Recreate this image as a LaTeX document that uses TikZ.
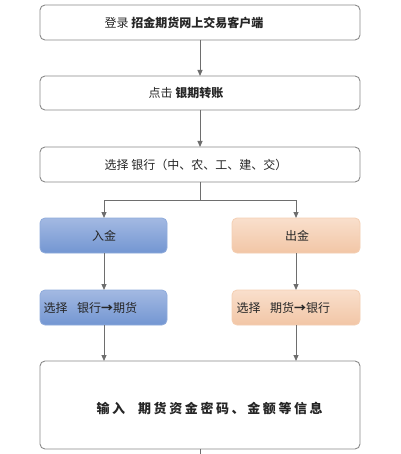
\documentclass[tikz,border=0pt]{standalone}
\usepackage{fontspec}
\setmainfont{Noto Sans CJK SC}
\newfontfamily\cjk{Noto Sans CJK SC}
\usetikzlibrary{arrows.meta}
\definecolor{edge}{HTML}{8A8A8A}
\definecolor{arr}{HTML}{6E6E6E}
\definecolor{bluetop}{HTML}{A3B9E2}
\definecolor{bluebot}{HTML}{7396D2}
\definecolor{orgtop}{HTML}{F9DFCC}
\definecolor{orgbot}{HTML}{F2C6A6}
\tikzset{
  x=1pt,y=-1pt,
  wbox/.style={draw=edge,line width=0.9pt,rounded corners=5pt,fill=white},
  bluebox/.style={draw=bluebot!80!white,line width=0.8pt,rounded corners=5pt,top color=bluetop,bottom color=bluebot},
  orgbox/.style={draw=orgbot!85!white,line width=0.8pt,rounded corners=5pt,top color=orgtop,bottom color=orgbot},
  conn/.style={draw=arr,line width=1pt,-{Triangle[length=6pt,width=5pt]}},
  plain/.style={draw=arr,line width=1pt},
  txt/.style={font=\cjk\fontsize{12}{14}\selectfont,text=black!85},
}
\begin{document}
\begin{tikzpicture}
\useasboundingbox[fill=white] (0,0) rectangle (400,454);
% boxes
\draw[wbox] (40,5) rectangle (360,40);
\draw[wbox] (40,76) rectangle (360,110);
\draw[wbox] (40,147) rectangle (360,182);
\draw[bluebox] (40,218) rectangle (167,253);
\draw[orgbox] (232,218) rectangle (360,253);
\draw[bluebox] (40,290) rectangle (167,325);
\draw[orgbox] (232,290) rectangle (360,325);
\draw[wbox] (40,361) rectangle (360,449);
% anchors
\coordinate (b1s) at (200,40);
\coordinate (b2n) at (200,76);
\coordinate (b2s) at (200,110);
\coordinate (b3n) at (200,147);
\coordinate (b3s) at (200,182);
\coordinate (split) at (200,200);
\coordinate (ls) at (104,200);
\coordinate (rs) at (296,200);
\coordinate (inN) at (104,218);
\coordinate (outN) at (296,218);
\coordinate (inS) at (104,253);
\coordinate (outS) at (296,253);
\coordinate (selLN) at (104,290);
\coordinate (selRN) at (296,290);
\coordinate (selLS) at (104,325);
\coordinate (selRS) at (296,325);
\coordinate (finL) at (104,361);
\coordinate (finR) at (296,361);
\coordinate (finS) at (200,449);
\coordinate (tail) at (200,454);
% texts
\node[txt] (t1) at (184,22.5) {登录 \textbf{招金期货网上交易客户端}};
\node[txt] (t2) at (186,93) {点击 \textbf{银期转账}};
\node[txt] (t3) at (196,164.5) {选择 银行（中、农、工、建、交）};
\node[txt] (t4) at (104,235.5) {入金};
\node[txt] (t5) at (297,235.5) {出金};
\node[txt,anchor=west] (t6) at (40,307.5) {选择\hspace{0.8em}银行\textbf{→}期货};
\node[txt,anchor=west] (t7) at (233,307.5) {选择\hspace{0.8em}期货\textbf{→}银行};
\node[txt,font=\cjk\bfseries\fontsize{13}{15}\selectfont,anchor=west] (t8) at (93,408) {输\hspace{0.2em}入\hspace{1em}期\hspace{0.2em}货\hspace{0.2em}资\hspace{0.2em}金\hspace{0.2em}密\hspace{0.2em}码\hspace{0.2em}、\hspace{0.2em}金\hspace{0.2em}额\hspace{0.2em}等\hspace{0.2em}信\hspace{0.2em}息};
% connectors
\draw[conn] (b1s) -- (b2n);
\draw[conn] (b2s) -- (b3n);
\draw[plain] (b3s) -- (split);
\draw[plain] (ls) -- (rs);
\draw[conn] (ls) -- (inN);
\draw[conn] (rs) -- (outN);
\draw[conn] (inS) -- (selLN);
\draw[conn] (outS) -- (selRN);
\draw[conn] (selLS) -- (finL);
\draw[conn] (selRS) -- (finR);
\draw[plain] (finS) -- (tail);
\end{tikzpicture}
\end{document}
